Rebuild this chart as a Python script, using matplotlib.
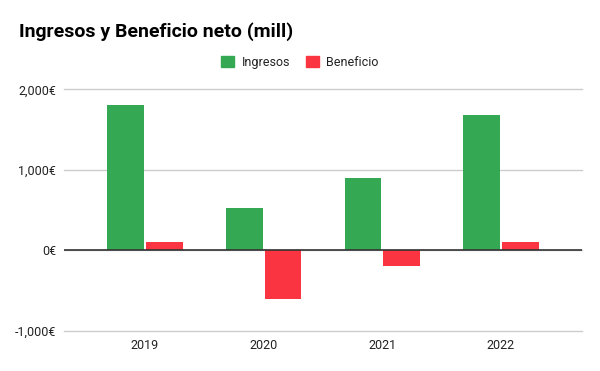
import numpy as np
import matplotlib.pyplot as plt
from matplotlib.patches import Patch
from matplotlib.ticker import FuncFormatter

plt.rcParams['font.family'] = ['Roboto', 'DejaVu Sans']

years = ['2019', '2020', '2021', '2022']
ingresos = [1800, 525, 900, 1680]
beneficio = [100, -600, -190, 100]

green = '#34a853'
red = '#fa3441'

fig = plt.figure(figsize=(6, 3.71), dpi=100)
ax = fig.add_axes([0.107, 0.1086, 0.8625, 0.6507])

x = np.arange(len(years))
w = 0.31
ax.bar(x - 0.163, ingresos, width=w, color=green, zorder=3)
ax.bar(x + 0.163, beneficio, width=w, color=red, zorder=3)

ax.set_xlim(-0.68, 3.68)
ax.set_ylim(-1000, 2000)
ax.set_yticks([-1000, 0, 1000, 2000])
ax.yaxis.set_major_formatter(FuncFormatter(lambda v, p: f'{int(v):,}€'))
ax.set_xticks(x)
ax.set_xticklabels(years)
ax.grid(axis='y', color='#cccccc', linewidth=1, zorder=0)
for gl in ax.get_ygridlines():
    gl.set_clip_on(False)
ax.axhline(0, color='#333333', linewidth=1.2, zorder=4)
for s in ax.spines.values():
    s.set_visible(False)
ax.tick_params(length=0, labelsize=9, colors='#222222', pad=6)

fig.text(0.032, 0.915, 'Ingresos y Beneficio neto (mill)', fontsize=14,
         fontweight='bold', color='#000000', va='center')

handles = [Patch(color=green, label='Ingresos'), Patch(color=red, label='Beneficio')]
fig.legend(handles=handles, loc='center', bbox_to_anchor=(0.5, 0.832), ncol=2,
           frameon=False, fontsize=9, handlelength=1.0, handleheight=1.0,
           handletextpad=0.6, columnspacing=1.3, labelcolor='#222222')

fig.savefig('out.png', dpi=100)
